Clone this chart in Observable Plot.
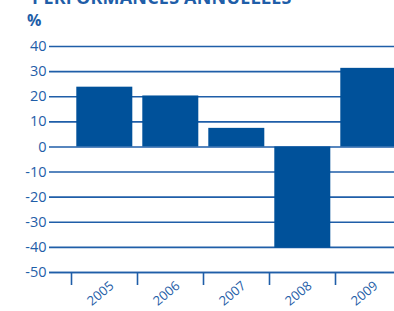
<!DOCTYPE html>
<html><head><meta charset="utf-8">
<script src="https://cdn.jsdelivr.net/npm/d3@7"></script>
<script src="https://cdn.jsdelivr.net/npm/@observablehq/plot@0.6"></script>
<style>
body{margin:0;background:#fff;font-family:"Open Sans",sans-serif;}
#wrap{position:relative;width:394px;height:311px;overflow:hidden;}
#title{position:absolute;left:32px;top:-15px;font-size:18px;line-height:24px;font-weight:700;color:#1f5ea8;letter-spacing:0.2px;white-space:nowrap;}
#unit{position:absolute;left:27px;top:9px;font-size:16px;font-weight:700;color:#1f5ea8;}
#chart{position:absolute;left:0;top:0;}
#chart svg{max-width:none !important;}
</style></head>
<body>
<div id="wrap">
<div id="chart"></div>
<div id="title">PERFORMANCES ANNUELLES</div>
<div id="unit">%</div>
</div>
<script>
const years = ["2005","2006","2007","2008","2009"];
const values = [23.8, 20.3, 7.4, -40.3, 31.3];
const yTicks = [40,30,20,10,0,-10,-20,-30,-40,-50];

const data = years.map((y,i)=>({year:y, i, value:values[i]}));
const blue = "#1f5ea8";
const bar = "#00519a";

const chart = Plot.plot({
  width: 401, height: 311,
  marginLeft: 71, marginRight: 0, marginTop: 46, marginBottom: 39,
  style: {fontFamily: '"Open Sans", sans-serif', color: blue, background: "transparent", overflow: "visible", maxWidth: "none"},
  x: {type: "linear", domain: [0, 5]},
  y: {domain: [-50, 40]},
  marks: [
    Plot.gridY(yTicks, {stroke: blue, strokeOpacity: 1, strokeWidth: 1.6, insetLeft: -22}),
    Plot.rectY(data, {x1: "i", x2: d => d.i + 1, y: "value", fill: bar, insetLeft: 5.3, insetRight: 4.7}),
    Plot.gridY([-50], {stroke: blue, strokeOpacity: 1, strokeWidth: 1.6, insetLeft: -22}),
    Plot.axisY(yTicks, {tickSize: 0, tickPadding: 25, fontSize: 14.5, fill: blue, label: null, tickFormat: d => String(d)}),
    Plot.axisX(d3.range(0, 6), {tickSize: 13, stroke: blue, strokeWidth: 1.6, tickFormat: () => "", label: null}),
    Plot.text(data, {x: d => d.i + 0.5, y: () => -50, text: "year", rotate: -40, dx: -4, dy: 21, fontSize: 13, fill: blue, textAnchor: "middle"})
  ]
});
document.getElementById("chart").appendChild(chart);
</script>
</body></html>
